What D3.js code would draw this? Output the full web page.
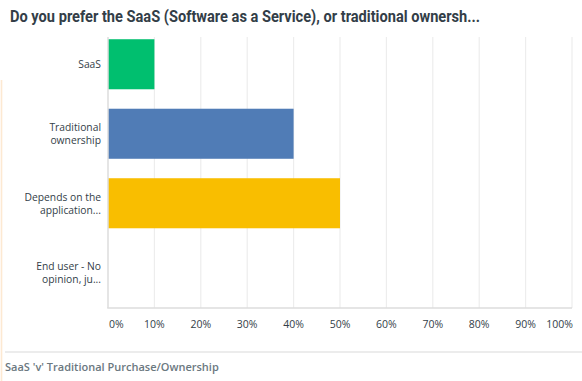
<!DOCTYPE html>
<html><head><meta charset="utf-8">
<script src="https://cdn.jsdelivr.net/npm/d3@7"></script>
<style>body{margin:0;background:#fff}svg{display:block}</style>
</head><body>
<script>
const title = "Do you prefer the SaaS (Software as a Service), or traditional ownersh...";
const footer = "SaaS 'v' Traditional Purchase/Ownership";
const categories = ["SaaS", "Traditional ownership", "Depends on the application...", "End user - No opinion, ju..."];
const categoryLines = [["SaaS"], ["Traditional", "ownership"], ["Depends on the", "application..."], ["End user - No", "opinion, ju..."]];
const values = [10, 40, 50, 0];
const colors = ["#00bf6f", "#507cb6", "#f9be00", "#6bc8cd"];
const ticks = [0, 10, 20, 30, 40, 50, 60, 70, 80, 90, 100];

const W = 582, H = 381;
const svg = d3.select("body").append("svg").attr("width", W).attr("height", H);
const font = "'Open Sans', sans-serif";

svg.append("rect").attr("x", 0.7).attr("y", 80).attr("width", 1.6).attr("height", H - 80).attr("fill", "#fde9d2");

svg.append("text").attr("x", 10).attr("y", 22).text(title)
  .attr("font-family", "Roboto, sans-serif").attr("font-weight", 700).attr("font-size", 16.3).attr("fill", "#333e48")
  .attr("textLength", 470).attr("lengthAdjust", "spacingAndGlyphs");

const x = d3.scaleLinear().domain([0, 100]).range([108, 572]);
const y = d3.scaleBand().domain(categories).range([29.5, 307.5]).paddingInner(0.28).paddingOuter(0.14);
const gTop = 37, gBot = 308;

svg.append("g").selectAll("line").data(ticks.slice(1)).join("line")
  .attr("x1", d => x(d)).attr("x2", d => x(d)).attr("y1", gTop).attr("y2", gBot)
  .attr("stroke", "#ededed").attr("stroke-width", 1.2);

svg.append("g").selectAll("rect").data(values).join("rect")
  .attr("x", x(0)).attr("y", (d, i) => y(categories[i]))
  .attr("width", d => x(d) - x(0)).attr("height", y.bandwidth())
  .attr("fill", (d, i) => colors[i]);

svg.append("line").attr("x1", x(0)).attr("x2", x(0)).attr("y1", gTop).attr("y2", gBot).attr("stroke", "#dcdcdc").attr("stroke-width", 1.5);
svg.append("line").attr("x1", x(0) - 0.75).attr("x2", x(100)).attr("y1", gBot).attr("y2", gBot).attr("stroke", "#dcdcdc").attr("stroke-width", 1.5);

const lab = svg.append("g");
categoryLines.forEach((lines, i) => {
  const cy = y(categories[i]) + y.bandwidth() / 2;
  const n = lines.length;
  lines.forEach((t, j) => {
    lab.append("text").attr("x", 101).attr("y", cy + (j - (n - 1) / 2) * 13 + 4)
      .attr("text-anchor", "end").attr("font-family", font).attr("font-size", 10.3).attr("fill", "#333e48").text(t);
  });
});

svg.append("g").selectAll("text").data(ticks).join("text")
  .attr("x", d => d === 0 ? x(d) + 1 : d === 100 ? x(d) + 1 : x(d))
  .attr("y", 328)
  .attr("text-anchor", d => d === 0 ? "start" : d === 100 ? "end" : "middle")
  .attr("font-family", font).attr("font-size", 10.5).attr("fill", "#333e48")
  .text(d => d + "%");

svg.append("line").attr("x1", 5).attr("x2", 582).attr("y1", 352).attr("y2", 352).attr("stroke", "#d9d9d9").attr("stroke-width", 1.2);
svg.append("text").attr("x", 5).attr("y", 371).text(footer)
  .attr("font-family", font).attr("font-weight", 600).attr("font-size", 11).attr("fill", "#6b787f");
</script>
</body></html>
